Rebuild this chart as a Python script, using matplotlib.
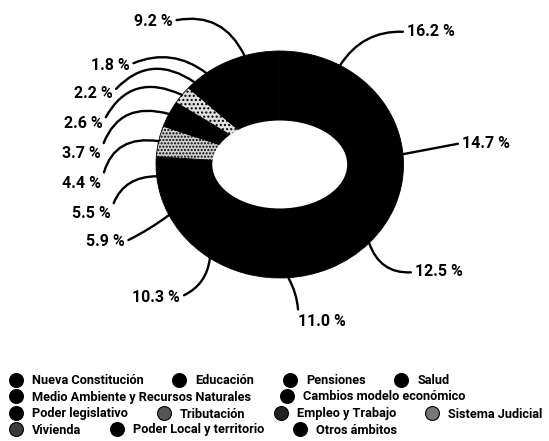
import numpy as np
import matplotlib
matplotlib.use("Agg")
import matplotlib.pyplot as plt
from matplotlib.lines import Line2D
from matplotlib.patches import Ellipse

plt.rcParams['font.family'] = ['Roboto', 'DejaVu Sans']

# data (clockwise from 12 o'clock)
temas = ["Nueva Constitución", "Educación", "Pensiones", "Salud",
         "Medio Ambiente y Recursos Naturales", "Cambios modelo económico",
         "Poder legislativo", "Tributación", "Empleo y Trabajo",
         "Sistema Judicial", "Vivienda", "Poder Local y territorio",
         "Otros ámbitos"]
pct = [16.2, 14.7, 12.5, 11.0, 10.3, 5.9, 5.5, 4.4, 3.7, 2.6, 2.2, 1.8, 9.2]

colores = ['black'] * 13
colores[7] = '#d0d0d0'   # Tributacion (punteado)
colores[9] = '#e0e0e0'   # Sistema Judicial (punteado)
tramas = [None] * 13
tramas[7] = '.....'
tramas[9] = '....'

leg_colores = ['black'] * 13
leg_colores[7] = '#555555'
leg_colores[8] = '#222222'
leg_colores[9] = '#777777'
leg_colores[10] = '#3a3a3a'

# label centres in image pixels (x, y from top)
lab_pos = [(431, 32), (486, 143), (439, 272), (322, 321), (156, 297),
           (105, 242), (91, 214), (82, 184), (81, 153), (83, 124),
           (93, 93), (110, 65), (153, 21)]
lab_rad = [0.3, 0.0, -0.4, 0.15, 0.3, 0.05, -0.4, -0.5, -0.5, -0.5,
           -0.45, -0.3, -0.4]

W, H = 549, 441
fig = plt.figure(figsize=(W / 100, H / 100), dpi=100)
ax = fig.add_axes([156 / W, (H - 278) / H, 247.5 / W, 227 / H])

wedges, _ = ax.pie(pct, colors=colores, startangle=90, counterclock=False,
                   radius=1, hatch=tramas,
                   wedgeprops=dict(linewidth=0.6, edgecolor='black'))
ax.set_aspect('auto')
ax.set_xlim(-1, 1)
ax.set_ylim(-1, 1)
ax.add_patch(Ellipse((0, 0), 1.09, 0.775, facecolor='white', edgecolor='none', zorder=3))

for w, v, (tx, ty), r in zip(wedges, pct, lab_pos, lab_rad):
    ang = np.deg2rad((w.theta1 + w.theta2) / 2)
    xy = (np.cos(ang), np.sin(ang))
    izq = tx < 279
    ax.annotate(f"{v:.1f} %", xy=xy, xytext=(tx, H - ty), textcoords='figure pixels',
                ha='center', va='center', fontsize=11.5, fontweight='bold',
                annotation_clip=False,
                arrowprops=dict(arrowstyle='-', color='black', lw=1.7,
                                shrinkA=1, shrinkB=0,
                                relpos=(1, 0.5) if izq else (0, 0.5),
                                connectionstyle=f"arc3,rad={r}"))

# legend rows (flowing layout like the original)
filas = [[0, 1, 2, 3], [4, 5], [6, 7, 8, 9], [10, 11, 12]]
fila_y = [381, 397, 414, 430]
for fila, y in zip(filas, fila_y):
    hs = [Line2D([], [], marker='o', linestyle='none', markersize=10,
                 markerfacecolor=leg_colores[i], markeredgecolor='black',
                 markeredgewidth=0.8) for i in fila]
    fig.legend(hs, [temas[i] for i in fila], loc='center left',
               bbox_to_anchor=(9.6 / W, (H - y) / H), ncol=len(fila),
               frameon=False, prop=dict(size=9.2, weight='bold'),
               handlelength=1.0, handletextpad=0.75, columnspacing=2.3,
               borderpad=0, borderaxespad=0)

fig.savefig("out.png", dpi=100)
